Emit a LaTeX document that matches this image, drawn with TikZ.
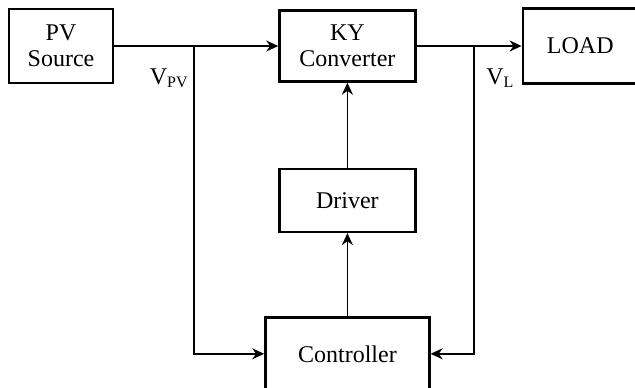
\documentclass[tikz,border=0pt]{standalone}
\usepackage{fontspec}
\setmainfont{Liberation Serif}
\usetikzlibrary{arrows.meta, positioning, calc}

\begin{document}
\begin{tikzpicture}[
  x=0.5pt, y=0.5pt,
  node distance=41pt,
  block/.style={rectangle, draw=black, line width=1.2pt, align=center,
    font=\fontsize{12}{13}\selectfont, inner sep=0pt},
  signal/.style={-{Stealth[length=6pt, width=5.5pt]}, line width=0.9pt},
  tag/.style={inner sep=0pt, font=\fontsize{12}{13}\selectfont}
]
  \useasboundingbox (0,0) rectangle (635,-387);

  \node[block, minimum width=52pt, minimum height=37pt] (pv) at (61,-46)
    {PV\\Source};
  \node[block, minimum width=68pt, minimum height=35.5pt,
    right=82pt of pv] (ky) {KY\\Converter};
  \node[block, minimum width=57.5pt, minimum height=37.5pt,
    right=52.5pt of ky] (load) {LOAD};
  \node[block, minimum width=68pt, minimum height=31.5pt,
    below=42.5pt of ky] (driver) {Driver};
  \node[block, minimum width=82pt, minimum height=36.5pt,
    below=41.5pt of driver] (ctrl) {Controller};

  % sensing points
  \coordinate (jpv) at (194,-46);
  \coordinate (jl) at (474,-46);

  \draw[signal] (pv) -- (ky);
  \draw[signal] (ky) -- (load);
  \draw[signal] (driver) -- (ky);
  \draw[signal] (ctrl) -- (driver);
  \draw[signal] (jpv) |- (ctrl.west);
  \draw[signal] (jl) |- (ctrl.east);

  \node[tag, anchor=north east] (vpv) at ($(jpv)+(-5,-22)$)
    {V\textsubscript{PV}};
  \node[tag, anchor=north west] (vl) at ($(jl)+(12,-22)$)
    {V\textsubscript{L}};
\end{tikzpicture}
\end{document}
